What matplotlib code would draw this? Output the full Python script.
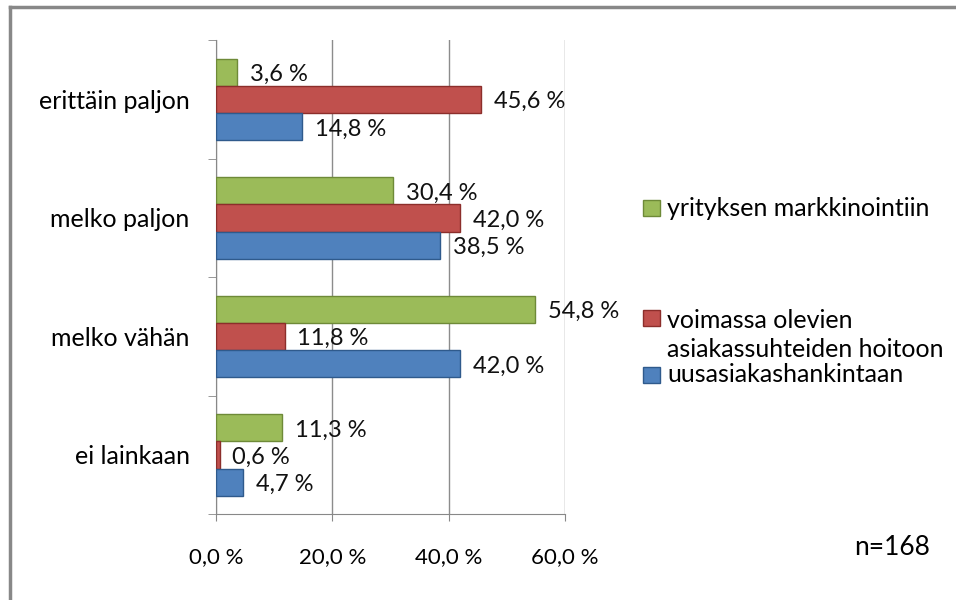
import matplotlib.pyplot as plt
from matplotlib.patches import Rectangle
from matplotlib.lines import Line2D
import numpy as np

# DATA
categories = ["erittäin paljon", "melko paljon", "melko vähän", "ei lainkaan"]
series_names = ["yrityksen markkinointiin",
                "voimassa olevien\nasiakassuhteiden hoitoon",
                "uusasiakashankintaan"]
markkinointi = [3.6, 30.4, 54.8, 11.3]
hoito = [45.6, 42.0, 11.8, 0.6]
hankinta = [14.8, 38.5, 42.0, 4.7]
x_ticks = [0, 20, 40, 60]

colors = ["#9BBB59", "#C0504D", "#4F81BD"]
edges = ["#6E8A38", "#8C2E2B", "#2F5A8C"]

plt.rcParams['font.family'] = ['Lato', 'DejaVu Sans']

fig = plt.figure(figsize=(9.56, 6), dpi=100)
ax = fig.add_axes([0.226, 0.143, 0.365, 0.790])

y = np.arange(len(categories))
h = 0.23
all_series = [markkinointi, hoito, hankinta]
offsets = [-h, 0, h]

for vals, off, c, ec in zip(all_series, offsets, colors, edges):
    bars = ax.barh(y + off, vals, height=h, color=c, edgecolor=ec, linewidth=1, zorder=3)
    for b, v in zip(bars, vals):
        ax.text(v + 2.2, b.get_y() + b.get_height() / 2 + 0.02,
                f"{v:.1f} %".replace(".", ","),
                va="center", ha="left", fontsize=17, color="#111111", zorder=4)

ax.set_xlim(0, 60)
ax.set_ylim(len(categories) - 0.5, -0.5)
ax.set_xticks(x_ticks)
ax.set_xticklabels([f"{t:.1f} %".replace(".", ",") for t in x_ticks], fontsize=16)
ax.set_yticks(y)
ax.set_yticklabels(categories, fontsize=18)
ax.tick_params(axis="y", length=0, pad=19)
ax.tick_params(axis="x", length=5, color="#888888", pad=19, direction="out")

# category boundary ticks on left axis
ax.set_yticks(np.arange(-0.5, len(categories), 1), minor=True)
ax.tick_params(axis="y", which="minor", length=6, color="#888888")

ax.grid(axis="x", color="#8c8c8c", linewidth=1, zorder=0)
for s in ["top", "right"]:
    ax.spines[s].set_visible(False)
ax.spines["left"].set_color("#888888")
ax.spines["bottom"].set_color("#888888")

# legend drawn by hand to keep Excel-like uneven spacing
legend_y = [0.653, 0.442, 0.375]
marker_y = [0.653, 0.470, 0.375]
for name, c, ec, ly, my in zip(series_names, colors, edges, legend_y, marker_y):
    fig.patches.append(Rectangle((0.673, my - 0.013), 0.017, 0.026,
                                 transform=fig.transFigure, facecolor=c, edgecolor=ec))
    fig.text(0.698, ly, name, fontsize=18, va="center", ha="left", linespacing=1.3)

fig.text(0.973, 0.087, "n=168", fontsize=19, ha="right", va="center")

# outer chart frame (left and top visible)
fig.add_artist(Line2D([0.010, 0.010], [0.0, 0.988], color="#888888", linewidth=2.5,
                      transform=fig.transFigure))
fig.add_artist(Line2D([0.010, 1.0], [0.988, 0.988], color="#888888", linewidth=2.5,
                      transform=fig.transFigure))

fig.savefig("out.png", dpi=100)
